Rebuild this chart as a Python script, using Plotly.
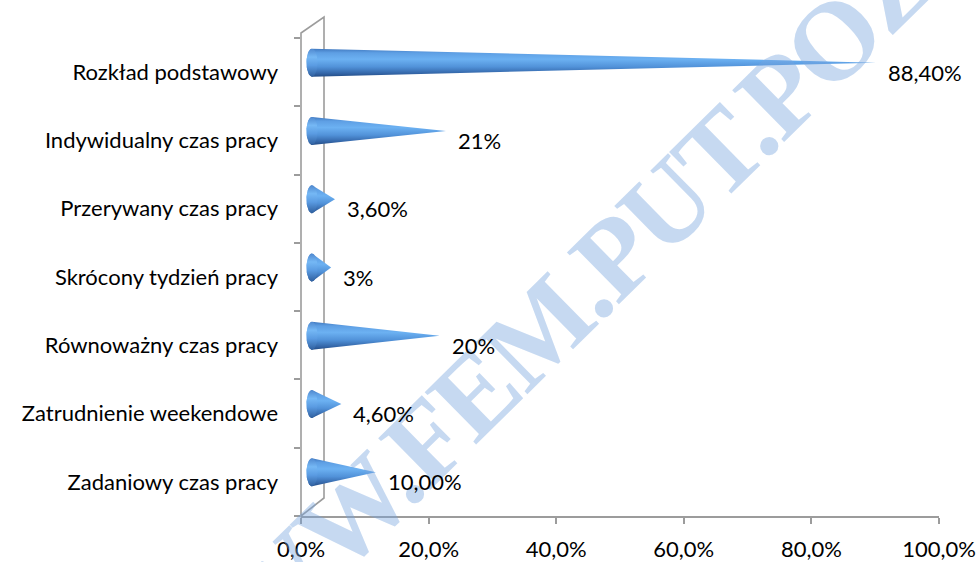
import numpy as np
import plotly.graph_objects as go

# ---------------- data ----------------
categories = ["Rozkład podstawowy", "Indywidualny czas pracy", "Przerywany czas pracy",
              "Skrócony tydzień pracy", "Równoważny czas pracy", "Zatrudnienie weekendowe",
              "Zadaniowy czas pracy"]
values = [88.4, 21, 3.6, 3, 20, 4.6, 10]
value_labels = ["88,40%", "21%", "3,60%", "3%", "20%", "4,60%", "10,00%"]
x_ticks = [0, 20, 40, 60, 80, 100]
x_tick_labels = ["0,0%", "20,0%", "40,0%", "60,0%", "80,0%", "100,0%"]
watermark = "WWW.FEM.PUT.POZNAN.PL"

# ---------------- layout geometry ----------------
W, H = 978, 562
ML, MR, MT, MB = 301, 39, 38, 46
pw, ph = W - ML - MR, H - MT - MB
n = len(categories)
x_range = [0, 100]
y_range = [0, n]
ux = pw / (x_range[1] - x_range[0])   # px per x unit
uy = ph / (y_range[1] - y_range[0])   # px per y unit

cone_dx, cone_dy = 11.0 / ux, 9.5 / uy     # half-depth shift of the 3D cones
cone_ry = 14.0 / uy
cone_rx = 5.5 / ux

FONT = "Lato"
FS = 22
AX = "#9c9c9c"

body_scale = [[0.0, "#244d86"], [0.12, "#3466a8"], [0.35, "#5192d9"],
              [0.62, "#6cb1f2"], [0.85, "#5e9fe4"], [1.0, "#4078bf"]]
base_scale = [[0.0, "#2f5f9e"], [0.4, "#5a9be2"], [0.7, "#75b8f5"], [1.0, "#4f88cf"]]

fig = go.Figure()
centers = [n - i - 0.5 for i in range(n)]

for v, c in zip(values, centers):
    bx, by = cone_dx, c + cone_dy
    t = np.linspace(np.pi / 2, 3 * np.pi / 2, 40)
    xs = list(bx + cone_rx * np.cos(t)) + [v + cone_dx, bx]
    ys = list(by + cone_ry * np.sin(t)) + [by, by + cone_ry]
    fig.add_trace(go.Scatter(x=xs, y=ys, mode="lines", line=dict(width=0),
                             fill="toself", fillcolor="#5a9ae0",
                             fillgradient=dict(type="vertical", colorscale=body_scale),
                             hoverinfo="skip", showlegend=False))
    t2 = np.linspace(0, 2 * np.pi, 50)
    fig.add_trace(go.Scatter(x=bx + cone_rx * np.cos(t2), y=by + cone_ry * np.sin(t2),
                             mode="lines", line=dict(width=0), fill="toself",
                             fillcolor="#5a9ae0",
                             fillgradient=dict(type="vertical", colorscale=base_scale),
                             hoverinfo="skip", showlegend=False))

annotations = [dict(text=f"<span style='letter-spacing:-3px'>{watermark}</span>",
                    xref="paper", yref="paper", x=0.589, y=0.674,
                    xanchor="center", yanchor="middle", textangle=-44.5, showarrow=False,
                    font=dict(family="Liberation Serif", size=112,
                              color="rgba(120,165,222,0.42)", weight="bold"))]
for v, c, lab in zip(values, centers, value_labels):
    annotations.append(dict(text=lab, x=v, y=c, xref="x", yref="y", xanchor="left",
                            yanchor="middle", xshift=21, showarrow=False,
                            font=dict(family=FONT, size=FS, color="#000000")))

# 3D side wall outline (pixel geometry converted to paper coordinates)
wall = dict(type="path", xref="paper", yref="paper",
            path=(f"M 0 0 L 0 {1 + 5 / ph} L {23 / pw} {1 + 21 / ph} "
                  f"L {23 / pw} {18 / ph} Z"),
            line=dict(color=AX, width=1.6), layer="below")

fig.update_layout(
    width=W, height=H, margin=dict(l=ML, r=MR, t=MT, b=MB, autoexpand=False),
    paper_bgcolor="white", plot_bgcolor="rgba(0,0,0,0)",
    shapes=[wall], annotations=annotations,
    xaxis=dict(range=x_range, tickvals=x_ticks, ticktext=x_tick_labels, automargin=False,
               showgrid=False, zeroline=False, showline=True, linecolor=AX, linewidth=1.6,
               ticks="outside", ticklen=6, tickcolor=AX, tickwidth=1.6,
               ticklabelstandoff=7, tickfont=dict(family=FONT, size=FS, color="#000")),
    yaxis=dict(range=y_range, tickvals=centers, ticktext=categories, automargin=False,
               showgrid=False, zeroline=False, showline=False, ticks="",
               ticklabelstandoff=22, tickfont=dict(family=FONT, size=FS, color="#000"),
               minor=dict(tickvals=list(range(n + 1)), ticks="outside", ticklen=6,
                          tickcolor=AX, tickwidth=1.6, showgrid=False)),
)

fig.write_html("out.html")
